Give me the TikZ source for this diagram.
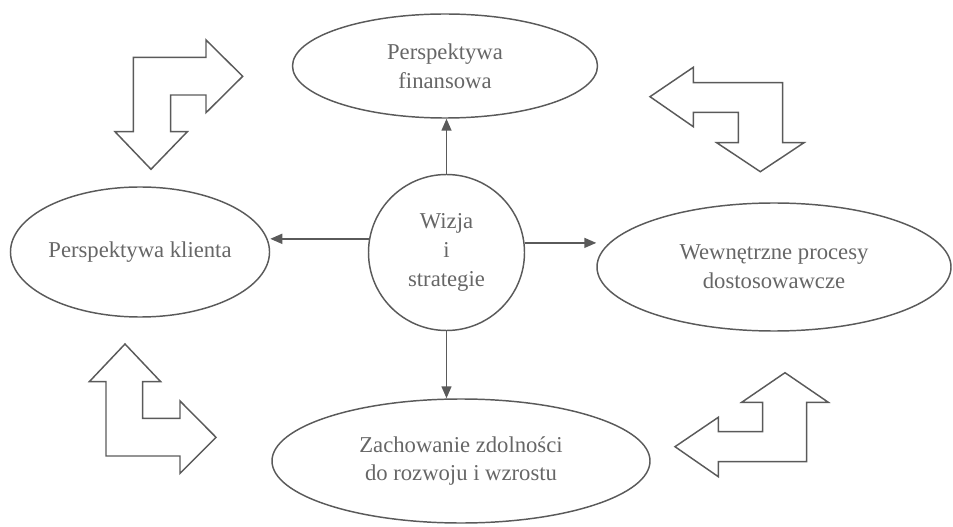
\documentclass[tikz,border=0pt]{standalone}
\usepackage{fontspec}
\setmainfont{Liberation Serif}
\usetikzlibrary{shapes.geometric,arrows.meta}
\definecolor{linegray}{HTML}{5A5A5A}
\definecolor{textgray}{HTML}{666666}
\begin{document}
\begin{tikzpicture}[x=0.75pt,y=-0.75pt,
  every node/.style={text=textgray,font=\fontsize{17pt}{21.5pt}\selectfont,align=center},
  oval/.style={draw=linegray,line width=1.1pt,ellipse,inner sep=0pt},
  conn/.style={draw=linegray,line width=1.1pt,-{Triangle[length=9pt,width=7.5pt]}},
  bentarrow/.style={draw=linegray,line width=1.1pt,line join=miter}]
\useasboundingbox (0,0) rectangle (953,527);

\node[oval,minimum width=228.75pt,minimum height=78pt] (T) at (445,66) {Perspektywa\\finansowa};
\node[oval,minimum width=192pt,minimum height=97.5pt] (L) at (140,252) {Perspektywa klienta};
\node[oval,minimum width=265.5pt,minimum height=96pt] (R) at (774,267) {Wewnętrzne procesy\\dostosowawcze};
\node[oval,minimum width=283.5pt,minimum height=93pt] (B) at (461,461) {Zachowanie zdolności\\do rozwoju i wzrostu};
\node[oval,circle,minimum size=117pt] (C) at (446.5,252.5) {Wizja\\i\\strategie};

\draw[conn] (C.north) -- (C.north |- T.south);
\draw[conn] (C.south) -- (C.south |- B.north);
\draw[conn] (C.170.8) -- (C.170.8 -| L.east);
\draw[conn] (C.7.7) -- (C.7.7 -| R.west);

% top-left bent arrow
\draw[bentarrow] (133.3,57.3) -- (206,57.3) -- (206,40) -- (242.7,76.3) -- (206,112.7) -- (206,95)
  -- (170.7,95) -- (170.7,131.7) -- (187.3,131.7) -- (151,169.3) -- (115,131.7) -- (133.3,131.7) -- cycle;
% top-right bent arrow
\draw[bentarrow] (650,96.7) -- (693.3,67.3) -- (693.3,82.7) -- (782.7,82.7) -- (782.7,142.7) -- (804,142.7)
  -- (760.3,171.7) -- (716.7,142.7) -- (738.3,142.7) -- (738.3,112.3) -- (693.3,112.3) -- (693.3,126.7) -- cycle;
% bottom-left bent arrow
\draw[bentarrow] (125,344) -- (160.7,381.7) -- (142.7,381.7) -- (142.7,418.3) -- (180,418.3) -- (180,401)
  -- (216,437.3) -- (180,473.3) -- (180,456) -- (106,456) -- (106,381.7) -- (89.3,381.7) -- cycle;
% bottom-right bent arrow
\draw[bentarrow] (785,372.7) -- (828.3,402.3) -- (806.7,402.3) -- (806.7,461.7) -- (718.3,461.7) -- (718.3,476.7)
  -- (675,446.7) -- (718.3,417.3) -- (718.3,431.7) -- (762.7,431.7) -- (762.7,402.3) -- (741.7,402.3) -- cycle;
\end{tikzpicture}
\end{document}
